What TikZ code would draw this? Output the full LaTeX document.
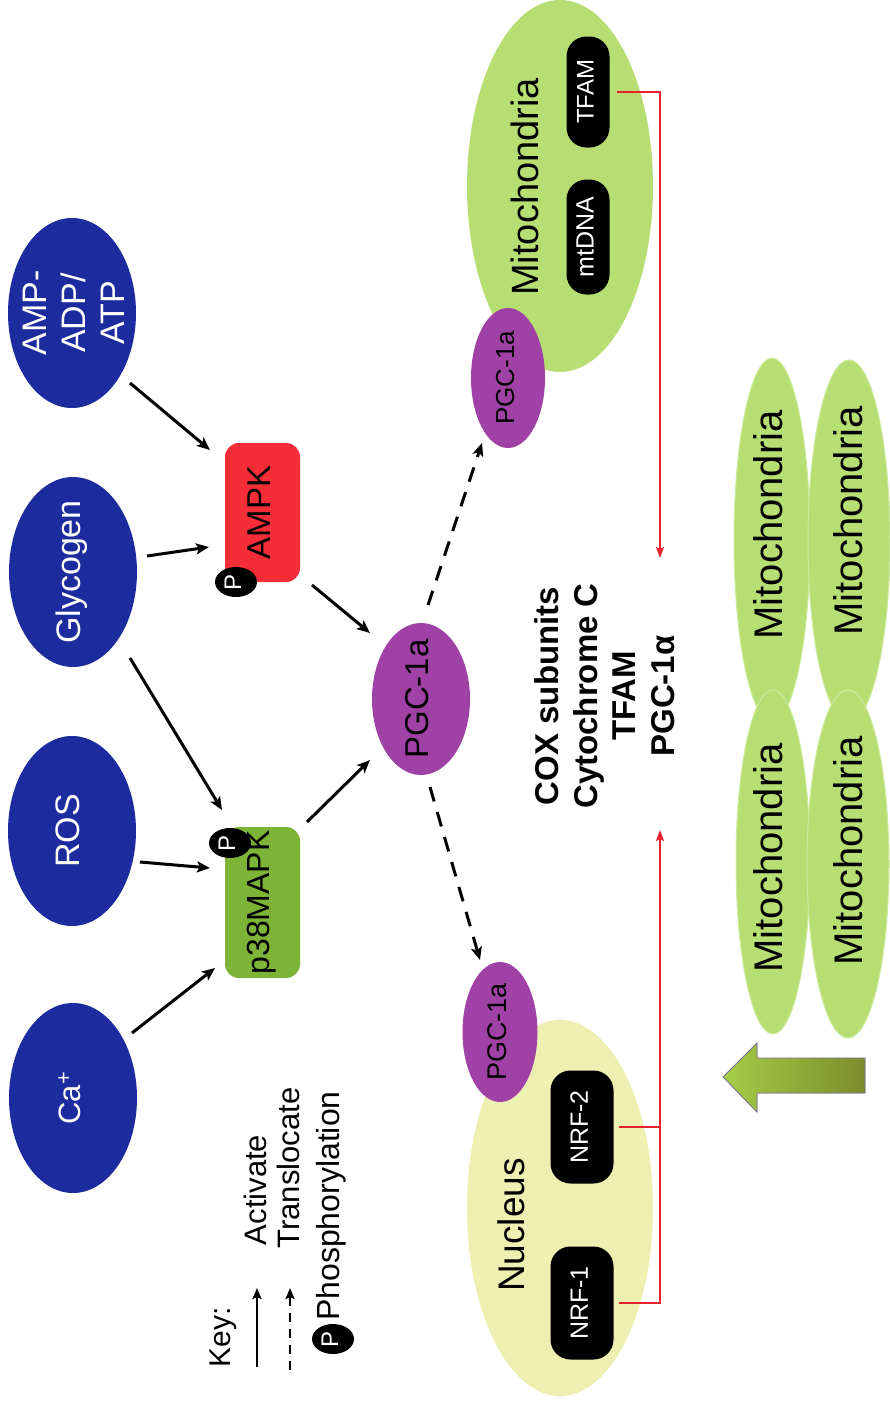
\documentclass[tikz,border=0pt]{standalone}
\usepackage{fontspec}
\setmainfont{Liberation Sans}
\usepackage{graphicx}
\usetikzlibrary{arrows.meta,calc,shapes.geometric}
\definecolor{cblue}{RGB}{28,44,158}
\definecolor{campk}{RGB}{245,45,55}
\definecolor{cline}{RGB}{230,35,45}
\definecolor{cp38}{RGB}{125,180,55}
\definecolor{cpurp}{RGB}{160,65,165}
\definecolor{cmito}{RGB}{183,222,115}
\definecolor{crim}{RGB}{205,235,160}
\definecolor{cnuc}{RGB}{238,240,178}
\definecolor{carrowL}{RGB}{165,205,70}
\definecolor{carrowR}{RGB}{125,140,45}
\newsavebox\rtbox
\newcommand\rtxt[1]{\sbox\rtbox{\rotatebox{90}{\begin{tabular}{@{}c@{}}#1\end{tabular}}}%
  \makebox[0pt]{\raisebox{\dimexpr-0.5\ht\rtbox+0.5\dp\rtbox\relax}[0pt][0pt]{\usebox\rtbox}}}
\tikzset{
  blob/.style={ellipse, fill=cblue, minimum width=128pt, minimum height=190pt, inner sep=0pt, text=white, font=\fontsize{34}{39}\selectfont},
  kin/.style={rectangle, rounded corners=14pt, minimum width=75pt, inner sep=0pt, font=\fontsize{33}{38}\selectfont},
  pcirc/.style={ellipse, fill=black, text=white, minimum width=42pt, minimum height=30pt, inner sep=0pt, font=\fontsize{24}{26}\selectfont},
  pgcs/.style={ellipse, fill=cpurp, inner sep=0pt},
  pill/.style={rectangle, rounded corners=20pt, fill=black, text=white, inner sep=0pt},
  smito/.style={ellipse, fill=cmito, draw=crim, line width=1pt, inner sep=0pt},
  lbl/.style={inner sep=0pt},
  act/.style={line width=3pt, -{Stealth[length=13pt,width=11pt,inset=3pt]}},
  trans/.style={line width=3pt, dash pattern=on 15pt off 11pt, -{Stealth[length=13pt,width=11pt,inset=3pt]}},
  keyact/.style={line width=2.5pt, -{Stealth[length=11pt,width=9pt,inset=2pt]}},
  keytrans/.style={line width=2.5pt, dash pattern=on 9pt off 7pt, -{Stealth[length=11pt,width=9pt,inset=2pt]}},
  redl/.style={draw=cline, line width=2pt},
  redarr/.style={draw=cline, line width=2pt, -{Stealth[length=11pt,width=8pt,inset=2pt]}},
}
\begin{document}
\begin{tikzpicture}[x=1pt,y=-1pt]
\fill[white] (0,0) rectangle (890,1408);
\useasboundingbox (0,0) rectangle (890,1408);

% inputs
\node[blob] (amp) at (72,313) {};
\node[lbl, text=white, font=\fontsize{34}{39}\selectfont] (amplbl) at (78,313) {\rtxt{AMP-\\ADP/\\ATP}};
\node[blob] (gly) at (73,572) {\rtxt{Glycogen}};
\node[blob] (ros) at (72,831) {\rtxt{ROS}};
\node[blob, font=\fontsize{31}{35}\selectfont] (ca) at (73,1098) {\rtxt{Ca\textsuperscript{+}}};

% kinases
\node[kin, fill=campk, minimum height=139pt] (ampk) at (262.5,512.5) {\rtxt{AMPK}};
\node[kin, fill=cp38, minimum height=151pt, font=\fontsize{32}{37}\selectfont] (p38) at (262.5,902.5) {\rtxt{p38MAPK}};
\node[pcirc] (pa) at (236,582) {\rtxt{P}};
\node[pcirc] (pp) at (230,843) {\rtxt{P}};

% central PGC
\node[pgcs, minimum width=98pt, minimum height=152pt, font=\fontsize{33}{38}\selectfont] (pgc) at (421,699) {\rtxt{PGC-1a}};

% mitochondrion
\node[ellipse, fill=cmito, minimum width=186pt, minimum height=372pt, inner sep=0pt] (mito) at (560,186) {};
\node[lbl, font=\fontsize{38}{44}\selectfont] (mitolbl) at (530,187) {\rtxt{Mitochondria}};
\node[pill, minimum width=43pt, minimum height=111pt, font=\fontsize{24}{28}\selectfont] (tfam) at (588,92) {\rtxt{TFAM}};
\node[pill, minimum width=43pt, minimum height=115pt, font=\fontsize{25}{28}\selectfont] (mtdna) at (588,237) {\rtxt{mtDNA}};
\node[pgcs, minimum width=74pt, minimum height=140pt, font=\fontsize{26}{30}\selectfont] (pgcm) at (508,378) {\rtxt{PGC-1a}};

% nucleus
\node[ellipse, fill=cnuc, minimum width=186pt, minimum height=376pt, inner sep=0pt] (nuc) at (560,1208) {};
\node[lbl, font=\fontsize{37}{42}\selectfont] (nuclbl) at (516,1225) {\rtxt{Nucleus}};
\node[pill, minimum width=63pt, minimum height=113pt, font=\fontsize{25}{29}\selectfont] (nrf2) at (582,1127) {\rtxt{NRF-2}};
\node[pill, minimum width=63pt, minimum height=113pt, font=\fontsize{25}{29}\selectfont] (nrf1) at (582,1303) {\rtxt{NRF-1}};
\node[pgcs, minimum width=75pt, minimum height=140pt, font=\fontsize{27}{31}\selectfont] (pgcn) at (500,1032) {\rtxt{PGC-1a}};

% genes
\node[lbl, font=\bfseries\fontsize{33}{38.5}\selectfont] (genes) at (609,696) {\rtxt{COX subunits\\Cytochrome C\\TFAM\\PGC-1α}};

% daughter mitochondria
\node[smito, minimum width=76pt, minimum height=364pt] (m1) at (772,540) {};
\node[smito, minimum width=82pt, minimum height=362pt] (m3) at (849,541) {};
\node[smito, minimum width=74pt, minimum height=344pt] (m2) at (773,862) {};
\node[smito, minimum width=82pt, minimum height=348pt] (m4) at (848,864) {};
\node[lbl, font=\fontsize{40}{46}\selectfont] (t1) at (773,525) {\rtxt{Mitochondria}};
\node[lbl, font=\fontsize{40}{46}\selectfont] (t3) at (853,521) {\rtxt{Mitochondria}};
\node[lbl, font=\fontsize{40}{46}\selectfont] (t2) at (773,858) {\rtxt{Mitochondria}};
\node[lbl, font=\fontsize{40}{46}\selectfont] (t4) at (853,851) {\rtxt{Mitochondria}};

% big arrow
\fill[left color=carrowL, right color=carrowR, draw={rgb,255:red,120;green,110;blue,150}, line width=0.8pt]
  (723,1077) -- (757,1043) -- (757,1058) -- (865,1058) -- (865,1093) -- (757,1093) -- (757,1112) -- cycle;

% activation arrows
\draw[act] ($(amp)+(58,70)$) -- ($(ampk)+(-52.5,-62.5)$);
\draw[act] ($(gly)+(74,-16)$) -- ($(ampk)+(-53.5,34.5)$);
\draw[act] ($(gly)+(57,86)$) -- ($(p38)+(-40.5,-92.5)$);
\draw[act] ($(ros)+(68,31)$) -- ($(p38)+(-52.5,-34.5)$);
\draw[act] ($(ca)+(59,-65)$) -- ($(p38)+(-47.5,65.5)$);
\draw[act] ($(ampk)+(49.5,72.5)$) -- ($(pgc)+(-51,-66)$);
\draw[act] ($(p38)+(44.5,-80.5)$) -- ($(pgc)+(-51,61)$);

% translocation
\draw[trans] ($(pgc)+(7,-94)$) -- ($(pgcm)+(-26,65)$);
\draw[trans] ($(pgc)+(9,88)$) -- ($(pgcn)+(-20,-72)$);

% red transcription lines
\coordinate (rt) at (660,558);
\coordinate (rb) at (660,830);
\draw[redarr] ($(tfam.east)+(7,0)$) -| (rt);
\draw[redarr] ($(nrf1.east)+(5,0)$) -| (rb);
\draw[redl] ($(nrf2.east)+(5,0)$) -- (nrf2.east -| rb);

% key
\node[lbl, font=\fontsize{30}{34}\selectfont] (key) at (224,1337) {\rtxt{Key:}};
\coordinate (ka1) at (257,1367);
\coordinate (ka2) at (257,1288);
\draw[keyact] (ka1) -- (ka2);
\node[lbl, font=\fontsize{31}{35}\selectfont] (kact) at (259,1190) {\rtxt{Activate}};
\coordinate (kt1) at (290,1370);
\coordinate (kt2) at (290,1288);
\draw[keytrans] (kt1) -- (kt2);
\node[lbl, font=\fontsize{31}{35}\selectfont] (ktr) at (292,1168) {\rtxt{Translocate}};
\node[pcirc] (kp) at (333,1339) {\rtxt{P}};
\node[lbl, font=\fontsize{32}{36}\selectfont] (kph) at (332,1206) {\rtxt{Phosphorylation}};
\end{tikzpicture}
\end{document}
